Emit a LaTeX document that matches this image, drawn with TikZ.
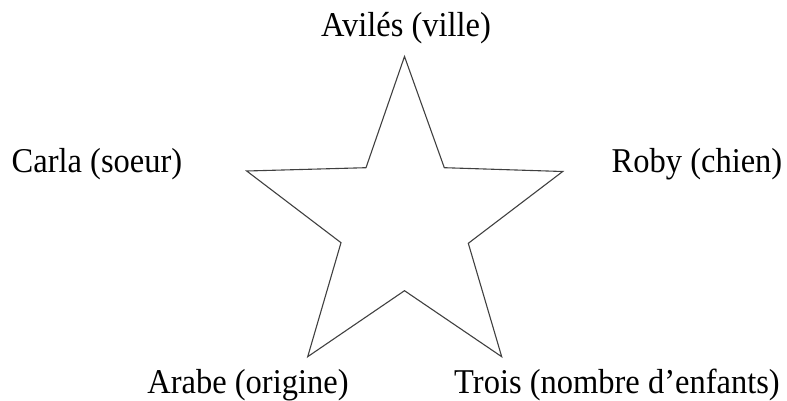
\documentclass[tikz,border=0pt]{standalone}
\usepackage{fontspec}
\setmainfont{Liberation Serif}
\newcommand{\tallt}[1]{\scalebox{1}[1.07]{#1}}
\tikzset{lbl/.style={anchor=base,inner sep=0pt,font=\fontsize{32.5}{36}\selectfont},
  starline/.style={draw=black!75,line width=1.1pt,line join=miter}}
\begin{document}
\begin{tikzpicture}[x=1pt,y=-1pt]
\useasboundingbox (0,0) rectangle (787,401);
\coordinate (p1) at (404.5,56.5);
\coordinate (p2) at (444.3,167.7);
\coordinate (p3) at (562.7,171.5);
\coordinate (p4) at (468.3,243.3);
\coordinate (p5) at (501.7,356.7);
\coordinate (p6) at (404.5,290.7);
\coordinate (p7) at (307.7,356.7);
\coordinate (p8) at (341,242.7);
\coordinate (p9) at (246.7,171);
\coordinate (p10) at (366,167.7);
\draw[starline] (p1) -- (p2) -- (p3) -- (p4) -- (p5) -- (p6) -- (p7) -- (p8) -- (p9) -- (p10) -- cycle;
\node[lbl] (avi) at (406,37) {\tallt{Avilés (ville)}};
\node[lbl] (car) at (97,172.5) {\tallt{Carla (soeur)}};
\node[lbl] (rob) at (697,172.5) {\tallt{Roby (chien)}};
\node[lbl] (ara) at (248,393.5) {\tallt{Arabe (origine)}};
\node[lbl] (tro) at (617,393.5) {\tallt{Trois (nombre d’enfants)}};
\end{tikzpicture}
\end{document}
